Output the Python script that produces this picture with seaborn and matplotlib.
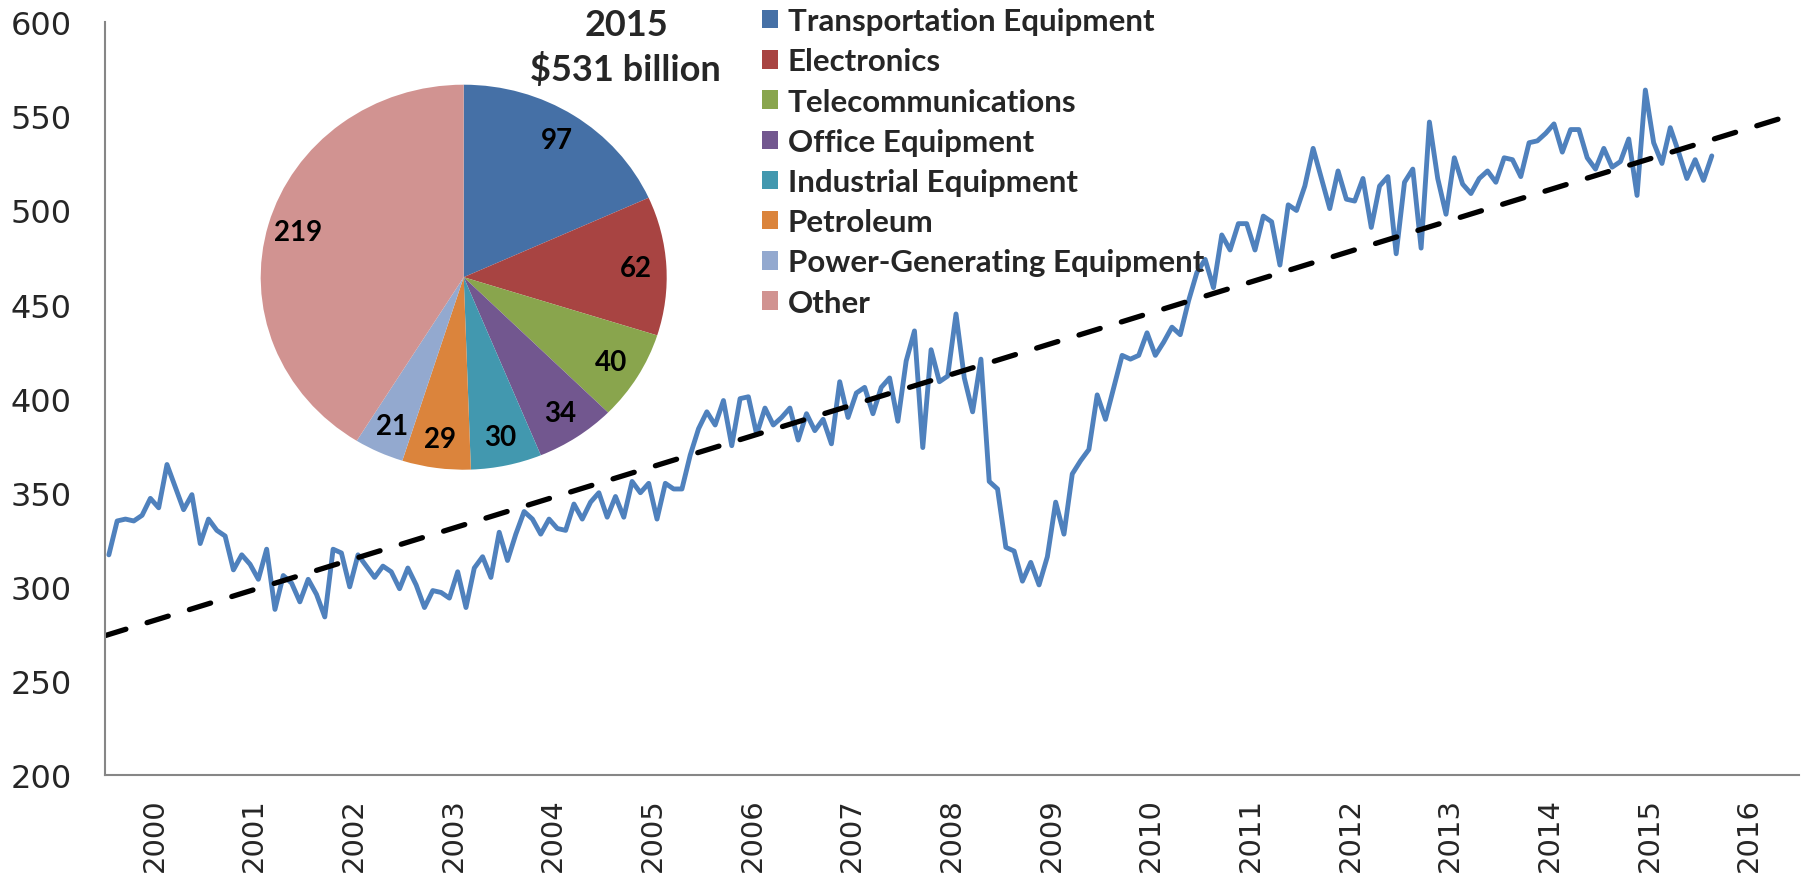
import numpy as np
import pandas as pd
import matplotlib
matplotlib.use('Agg')
import matplotlib.pyplot as plt
import seaborn as sns

# Monthly values, one list per year
y2000 = [317, 335, 336, 335, 338, 347, 342, 365, 353, 341, 349, 323]
y2001 = [336, 330, 327, 309, 317, 312, 304, 320, 288, 306, 302, 292]
y2002 = [304, 296, 284, 320, 318, 300, 317, 311, 305, 311, 308, 299]
y2003 = [310, 301, 289, 298, 297, 294, 308, 289, 310, 316, 305, 329]
y2004 = [314, 328, 340, 336, 328, 336, 331, 330, 344, 336, 345, 350]
y2005 = [337, 348, 337, 356, 350, 355, 336, 355, 352, 352, 370, 384]
y2006 = [393, 386, 399, 375, 400, 401, 381, 395, 386, 390, 395, 378]
y2007 = [392, 383, 389, 376, 409, 390, 403, 406, 392, 406, 411, 388]
y2008 = [420, 436, 374, 426, 409, 412, 445, 411, 393, 421, 356, 352]
y2009 = [321, 319, 303, 313, 301, 316, 345, 328, 360, 367, 373, 402]
y2010 = [389, 406, 423, 421, 423, 435, 423, 430, 438, 434, 452, 467]
y2011 = [474, 459, 487, 479, 493, 493, 479, 497, 494, 471, 503, 500]
y2012 = [513, 533, 517, 501, 521, 506, 505, 517, 491, 513, 518, 477]
y2013 = [515, 522, 480, 547, 517, 498, 528, 514, 509, 517, 521, 515]
y2014 = [528, 527, 518, 536, 537, 541, 546, 531, 543, 543, 528, 522]
y2015 = [533, 523, 526, 538, 508, 564, 536, 525, 544, 531, 517, 527]
y2016 = [516, 529]

# dashed trend line (end points)
trend_x = [2000.0, 2016.79]
trend_y = [274, 548.5]

year_labels = [str(y) for y in range(2000, 2017)]

# 2015 breakdown
pie_labels = ['Transportation Equipment', 'Electronics', 'Telecommunications',
              'Office Equipment', 'Industrial Equipment', 'Petroleum',
              'Power-Generating Equipment', 'Other']
pie_values = [97, 62, 40, 34, 30, 29, 21, 219]
pie_colors = ['#4570A6', '#A84442', '#89A54D', '#72578F',
              '#4298AF', '#DB843C', '#93A9CF', '#D19391']

sns.set_style('white')
plt.rcParams['font.family'] = ['DejaVu Sans']

monthly = (y2000 + y2001 + y2002 + y2003 + y2004 + y2005 + y2006 + y2007 + y2008
           + y2009 + y2010 + y2011 + y2012 + y2013 + y2014 + y2015 + y2016)
df = pd.DataFrame({'t': 2000 + (np.arange(len(monthly)) + 0.5) / 12, 'value': monthly})

W, H = 1803, 879
fig = plt.figure(figsize=(W / 100, H / 100), dpi=100)
ax = fig.add_axes([104.7 / W, 1 - 776 / H, (1799 - 104.7) / W, (776 - 23.3) / H])

sns.lineplot(data=df, x='t', y='value', ax=ax, color='#4F81BD', linewidth=3.5)
sns.lineplot(x=trend_x, y=trend_y, ax=ax, color='black', linewidth=3.8,
             linestyle=(0, (4.2, 4.2)), dash_capstyle='round')

ax.set_xlim(2000, 2017)
ax.set_ylim(200, 600)
ax.set_xlabel('')
ax.set_ylabel('')

grey = '#868686'
ax.set_xticks(range(2000, 2018))
ax.set_xticklabels([])
ax.set_xticks(np.arange(2000.5, 2017), minor=True)
ax.set_xticklabels(year_labels, minor=True, rotation=90, fontsize=21)
ax.tick_params(axis='x', which='minor', length=0, pad=16)
ax.tick_params(axis='x', which='major', length=7, width=1.5, color=grey, direction='out')
ax.set_yticks(range(200, 601, 50))
ax.tick_params(axis='y', length=8.6, width=1.5, color=grey, labelsize=23, pad=15, direction='out')
for s in ['top', 'right']:
    ax.spines[s].set_visible(False)
for s in ['left', 'bottom']:
    ax.spines[s].set_color(grey)
    ax.spines[s].set_linewidth(1.5)

# pie inset
pax = fig.add_axes([260.7 / W, 1 - 470.7 / H, 406 / W, 385 / H])
wedges, texts = pax.pie(pie_values, colors=pie_colors, startangle=90, counterclock=False,
                        labels=[str(v) for v in pie_values], labeldistance=0.85,
                        wedgeprops=dict(linewidth=0),
                        textprops=dict(fontsize=20, fontweight='bold', family='Lato',
                                       ha='center', va='center', color='black'))
pax.set_aspect('auto')
pax.set_xlim(-1, 1)
pax.set_ylim(-1, 1)
pax.axis('off')

fig.text(626 / W, 1 - 26 / H, '2015', ha='center', va='center',
         family='Lato', fontweight='bold', fontsize=26)
fig.text(625 / W, 1 - 70 / H, r'\$531 billion', ha='center', va='center',
         family='Lato', fontweight='bold', fontsize=26)

fig.legend(wedges, pie_labels, loc='upper left', bbox_to_anchor=(761.7 / W, 0.9906),
           frameon=False, prop={'family': 'Lato', 'weight': 'bold', 'size': 22.5},
           handlelength=0.53, handleheight=0.53, handletextpad=0.3,
           labelspacing=0.39, borderpad=0, borderaxespad=0)

fig.savefig('out.png', dpi=100)
